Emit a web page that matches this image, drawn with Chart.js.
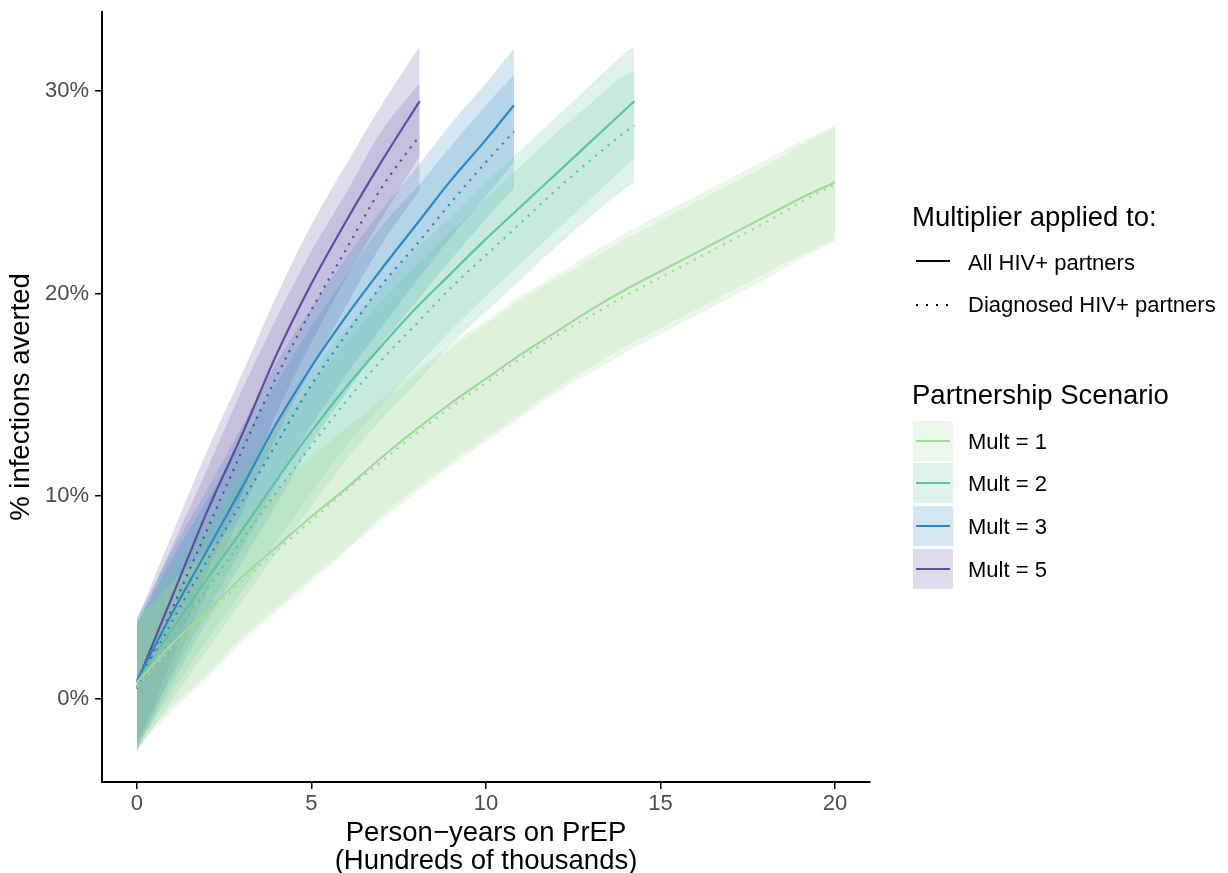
<!DOCTYPE html>
<html>
<head>
<meta charset="utf-8">
<script src="https://cdn.jsdelivr.net/npm/chart.js@4.4.1/dist/chart.umd.min.js"></script>
<style>
  body { margin: 0; background: #fff; font-family: "Liberation Sans", Arial, sans-serif; }
  #wrap { position: relative; width: 1228px; height: 873px; }
  .lg { position: absolute; white-space: nowrap; color: #000; }
  .ttl { font-size: 27.5px; line-height: 27.5px; }
  .lab { font-size: 22px; line-height: 22px; }
  .box { position: absolute; width: 40px; height: 40px; }
  .key { position: absolute; left: 3px; top: 19px; width: 34px; height: 2px; }
</style>
</head>
<body>
<div id="wrap">
  <canvas id="chart" width="1228" height="873"></canvas>
  <div id="legend"></div>
</div>
<script>
// x values (hundreds of thousands of person-years on PrEP)
const xMult1 = [0, 1, 2, 3, 4, 5, 6, 7, 8, 9, 10, 11, 12, 13, 14, 15, 16, 17, 18, 19, 20];
const xMult2 = [0, 1, 2, 3, 4, 5, 6, 7, 8, 9, 10, 11, 12, 13, 14, 14.25];
const xMult3 = [0, 1, 2, 3, 4, 5, 6, 7, 8, 9, 10, 10.8];
const xMult5 = [0, 1, 2, 3, 4, 5, 6, 7, 8.1];

// % infections averted, multiplier applied to all HIV+ partners
const allMult1 = [0.8, 2.7, 4.3, 6.0, 7.5, 9.0, 10.4, 11.9, 13.3, 14.6, 15.8, 17.0, 18.1, 19.2, 20.2, 21.1, 22.0, 22.9, 23.8, 24.7, 25.5];
const allMult1Lo = [-2.3, -0.4, 1.2, 3.0, 4.5, 6.0, 7.4, 9.0, 10.4, 11.7, 12.9, 14.1, 15.3, 16.4, 17.4, 18.3, 19.2, 20.1, 21.0, 21.9, 22.7];
const allMult1Hi = [3.9, 5.8, 7.4, 9.0, 10.5, 12.0, 13.4, 14.8, 16.2, 17.5, 18.7, 19.9, 20.9, 22.0, 23.0, 23.9, 24.8, 25.7, 26.6, 27.5, 28.3];
const allMult2 = [0.8, 3.4, 5.9, 8.3, 10.8, 13.2, 15.4, 17.4, 19.3, 21.0, 22.7, 24.3, 25.9, 27.5, 29.1, 29.5];
const allMult2Lo = [-2.3, 0.3, 2.9, 5.3, 7.8, 10.2, 12.5, 14.5, 16.4, 18.2, 19.9, 21.5, 23.1, 24.7, 26.3, 26.7];
const allMult2Hi = [3.9, 6.5, 8.9, 11.3, 13.8, 16.2, 18.3, 20.3, 22.2, 23.8, 25.5, 27.1, 28.7, 30.3, 31.9, 32.2];
const allMult3 = [0.9, 4.2, 7.3, 10.4, 13.6, 16.4, 18.9, 21.2, 23.4, 25.6, 27.6, 29.3];
const allMult3Lo = [-2.2, 1.1, 4.3, 7.4, 10.6, 13.5, 16.0, 18.3, 20.6, 22.8, 24.8, 26.5];
const allMult3Hi = [4.0, 7.3, 10.3, 13.4, 16.6, 19.3, 21.8, 24.1, 26.2, 28.4, 30.4, 32.1];
const allMult5 = [0.8, 5.0, 9.2, 13.0, 17.0, 20.5, 23.6, 26.5, 29.5];
const allMult5Lo = [-2.3, 1.9, 6.2, 10.0, 14.1, 17.6, 20.8, 23.7, 26.8];
const allMult5Hi = [3.9, 8.1, 12.2, 16.0, 19.9, 23.4, 26.4, 29.3, 32.2];

// % infections averted, multiplier applied to diagnosed HIV+ partners
const diagMult1 = [0.6, 2.5, 4.1, 5.8, 7.3, 8.8, 10.3, 11.7, 13.1, 14.4, 15.6, 16.8, 17.9, 18.9, 19.9, 20.8, 21.7, 22.6, 23.5, 24.5, 25.4];
const diagMult1Lo = [-2.5, -0.6, 1.0, 2.8, 4.3, 5.8, 7.3, 8.8, 10.2, 11.5, 12.7, 13.9, 15.1, 16.1, 17.1, 18.0, 18.9, 19.8, 20.7, 21.7, 22.6];
const diagMult1Hi = [3.7, 5.6, 7.2, 8.8, 10.3, 11.8, 13.3, 14.6, 16.0, 17.3, 18.5, 19.7, 20.7, 21.7, 22.7, 23.6, 24.5, 25.4, 26.3, 27.3, 28.2];
const diagMult2 = [0.5, 3.0, 5.4, 7.8, 10.2, 12.5, 14.7, 16.7, 18.5, 20.3, 21.9, 23.5, 25.1, 26.6, 28.0, 28.3];
const diagMult2Lo = [-2.6, -0.1, 2.4, 4.8, 7.2, 9.5, 11.8, 13.8, 15.6, 17.5, 19.1, 20.7, 22.3, 23.8, 25.2, 25.5];
const diagMult2Hi = [3.6, 6.1, 8.4, 10.8, 13.2, 15.5, 17.6, 19.6, 21.4, 23.1, 24.7, 26.3, 27.9, 29.4, 30.8, 31.0];
const diagMult3 = [0.6, 3.8, 6.8, 9.7, 12.6, 15.5, 18.0, 20.4, 22.4, 24.5, 26.5, 28.0];
const diagMult3Lo = [-2.5, 0.7, 3.8, 6.7, 9.6, 12.6, 15.1, 17.5, 19.6, 21.7, 23.7, 25.2];
const diagMult3Hi = [3.7, 6.9, 9.8, 12.7, 15.6, 18.4, 20.9, 23.3, 25.2, 27.3, 29.3, 30.8];
const diagMult5 = [0.5, 4.4, 8.3, 12.2, 15.9, 19.2, 22.2, 25.2, 27.8];
const diagMult5Lo = [-2.6, 1.3, 5.3, 9.2, 13.0, 16.3, 19.4, 22.4, 25.1];
const diagMult5Hi = [3.6, 7.5, 11.3, 15.2, 18.8, 22.1, 25.0, 28.0, 30.4];

const scenarioNames = ["Mult = 1", "Mult = 2", "Mult = 3", "Mult = 5"];
const scenarioColors = ["161,217,155", "95,195,162", "44,137,192", "93,76,162"];
const xTicks = [0, 5, 10, 15, 20];
const yTicks = [0, 10, 20, 30];

const scenarios = [
  { xs: xMult1, all: allMult1, allLo: allMult1Lo, allHi: allMult1Hi, diag: diagMult1, diagLo: diagMult1Lo, diagHi: diagMult1Hi },
  { xs: xMult2, all: allMult2, allLo: allMult2Lo, allHi: allMult2Hi, diag: diagMult2, diagLo: diagMult2Lo, diagHi: diagMult2Hi },
  { xs: xMult3, all: allMult3, allLo: allMult3Lo, allHi: allMult3Hi, diag: diagMult3, diagLo: diagMult3Lo, diagHi: diagMult3Hi },
  { xs: xMult5, all: allMult5, allLo: allMult5Lo, allHi: allMult5Hi, diag: diagMult5, diagLo: diagMult5Lo, diagHi: diagMult5Hi },
];

function pts(xs, ys) {
  return xs.map((x, i) => ({ x: x, y: ys[i] }));
}

const hidden = "rgba(0,0,0,0)";
let datasets = [];

// ribbons first
scenarios.forEach((s, i) => {
  [[s.allLo, s.allHi], [s.diagLo, s.diagHi]].forEach((band) => {
    datasets.push({
      data: pts(s.xs, band[0]),
      borderColor: hidden,
      borderWidth: 0,
      pointRadius: 0,
      fill: false,
      cubicInterpolationMode: "monotone",
    });
    datasets.push({
      data: pts(s.xs, band[1]),
      borderColor: hidden,
      borderWidth: 0,
      pointRadius: 0,
      fill: "-1",
      backgroundColor: "rgba(" + scenarioColors[i] + ",0.2)",
      cubicInterpolationMode: "monotone",
    });
  });
});

// then the lines
scenarios.forEach((s, i) => {
  datasets.push({
    label: scenarioNames[i] + " all",
    data: pts(s.xs, s.all),
    borderColor: "rgb(" + scenarioColors[i] + ")",
    borderWidth: 2.2,
    pointRadius: 0,
    fill: false,
    cubicInterpolationMode: "monotone",
  });
  datasets.push({
    label: scenarioNames[i] + " diagnosed",
    data: pts(s.xs, s.diag),
    borderColor: "rgb(" + scenarioColors[i] + ")",
    borderWidth: 2.2,
    borderDash: [2.2, 6],
    pointRadius: 0,
    fill: false,
    cubicInterpolationMode: "monotone",
  });
});

const fontFamily = "'Liberation Sans', Arial, sans-serif";

const chart = new Chart(document.getElementById("chart"), {
  type: "line",
  data: { datasets: datasets },
  options: {
    responsive: false,
    animation: false,
    layout: { padding: { left: 4, right: 358, top: 12, bottom: -2 } },
    plugins: {
      legend: { display: false },
      tooltip: { enabled: false },
      filler: { drawTime: "beforeDatasetsDraw" },
    },
    scales: {
      x: {
        type: "linear",
        min: -1,
        max: 21,
        afterBuildTicks: (scale) => {
          scale.ticks = xTicks.map((v) => ({ value: v }));
        },
        ticks: {
          color: "#4d4d4d",
          font: { family: fontFamily, size: 22, lineHeight: 1.0 },
          padding: 4,
          maxRotation: 0,
        },
        grid: { drawOnChartArea: false, drawTicks: true, tickLength: 7, color: "#000", lineWidth: 1.5 },
        border: { display: true, color: "#000", width: 2 },
        title: {
          display: true,
          text: ["Person\u2212years on PrEP", "(Hundreds of thousands)"],
          color: "#000",
          font: { family: fontFamily, size: 27.5, lineHeight: 1.02 },
          padding: { top: 0, bottom: 0 },
        },
      },
      y: {
        type: "linear",
        min: -4.1,
        max: 33.9,
        afterBuildTicks: (scale) => {
          scale.ticks = yTicks.map((v) => ({ value: v }));
        },
        afterFit: (scale) => {
          // no extra room for the top tick label, it sits well inside
          scale.paddingTop = 0;
          scale.paddingBottom = 0;
        },
        ticks: {
          color: "#4d4d4d",
          font: { family: fontFamily, size: 22 },
          padding: 6,
          callback: (v) => v + "%",
        },
        grid: { drawOnChartArea: false, drawTicks: true, tickLength: 7, color: "#000", lineWidth: 1.5 },
        border: { display: true, color: "#000", width: 2 },
        title: {
          display: true,
          text: "% infections averted",
          color: "#000",
          font: { family: fontFamily, size: 27.5 },
          padding: 1,
        },
      },
    },
  },
});

// legend (html, right hand side)
const legend = document.getElementById("legend");
function addText(cls, text, left, top) {
  let d = document.createElement("div");
  d.className = "lg " + cls;
  d.style.left = left + "px";
  d.style.top = top + "px";
  d.textContent = text;
  legend.appendChild(d);
}
addText("ttl", "Multiplier applied to:", 912, 203);
let solidKey = document.createElement("div");
solidKey.style.cssText = "position:absolute;left:916px;top:260px;width:34px;height:2px;background:#000;";
legend.appendChild(solidKey);
addText("lab", "All HIV+ partners", 968, 252);
let dotKey = document.createElement("div");
dotKey.style.cssText =
  "position:absolute;left:916px;top:304px;width:36px;height:2px;background:repeating-linear-gradient(to right,#000 0 2px,transparent 2px 10px);";
legend.appendChild(dotKey);
addText("lab", "Diagnosed HIV+ partners", 968, 294);
addText("ttl", "Partnership Scenario", 912, 381);

const boxTops = [421, 463, 506, 549];
scenarioNames.forEach((name, i) => {
  let b = document.createElement("div");
  b.className = "box";
  b.style.left = "913px";
  b.style.top = boxTops[i] + "px";
  b.style.background = "rgba(" + scenarioColors[i] + ",0.2)";
  let k = document.createElement("div");
  k.className = "key";
  k.style.background = "rgb(" + scenarioColors[i] + ")";
  b.appendChild(k);
  legend.appendChild(b);
  addText("lab", name, 968, boxTops[i] + 10);
});
</script>
</body>
</html>
